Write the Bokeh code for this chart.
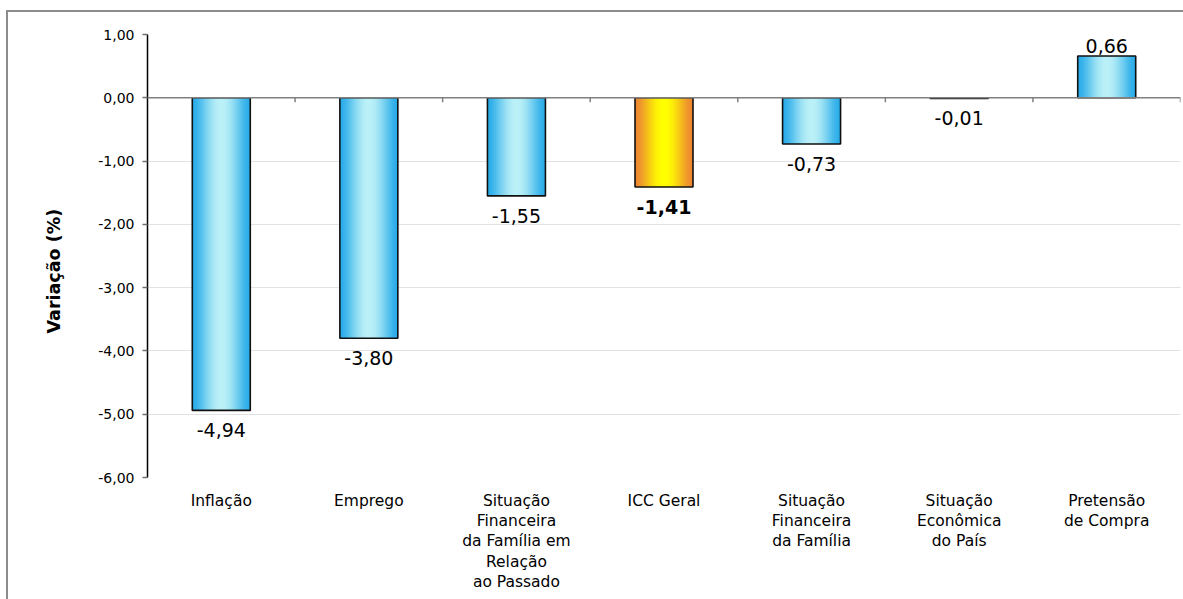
import numpy as np
from bokeh.plotting import figure
from bokeh.models import FixedTicker, Range1d, ColumnDataSource, Span, Title
from bokeh.core.properties import value
from bokeh.embed import file_html
from bokeh.resources import INLINE

# --- data -------------------------------------------------------------
categories = [
    "Inflação",
    "Emprego",
    "Situação\nFinanceira\nda Família em\nRelação\nao Passado",
    "ICC Geral",
    "Situação\nFinanceira\nda Família",
    "Situação\nEconômica\ndo País",
    "Pretensão\nde Compra",
]
values = [-4.94, -3.80, -1.55, -1.41, -0.73, -0.01, 0.66]
highlight = [False, False, False, True, False, False, False]
y_ticks = [1.0, 0.0, -1.0, -2.0, -3.0, -4.0, -5.0, -6.0]

FONT = "DejaVu Sans"
BAR_W = 0.393
N_STRIPS = 40

centers = [i + 0.5 for i in range(len(categories))]


def fmt(v):
    return f"{v:.2f}".replace(".", ",")


def mix(c1, c2, m):
    return "#%02x%02x%02x" % tuple(int(round(a + (b - a) * m)) for a, b in zip(c1, c2))


BLUE_EDGE, BLUE_MID = (41, 172, 233), (187, 240, 247)
ORANGE_EDGE, ORANGE_MID = (236, 134, 50), (255, 255, 0)

p = figure(
    width=1183, height=599,
    x_range=Range1d(0, len(categories)), y_range=Range1d(-6, 1),
    output_backend="svg", toolbar_location=None,
    min_border_left=147, min_border_right=3,
    min_border_top=34, min_border_bottom=122,
)
# chart box: top and left edges painted behind a transparent border area
p.styles = {
    "background": "linear-gradient(#8c8c8c, #8c8c8c) 6px 10px / 100% 2px no-repeat, "
                  "linear-gradient(#8c8c8c, #8c8c8c) 6px 10px / 2px 100% no-repeat, white",
}
p.border_fill_color = None
p.outline_line_color = None
p.background_fill_color = "white"

# horizontal gradient bars, built from overlapping thin vertical strips
lefts, rights, tops, bottoms, cols = [], [], [], [], []
sw = BAR_W / N_STRIPS
for c, v, hl in zip(centers, values, highlight):
    edge, mid = (ORANGE_EDGE, ORANGE_MID) if hl else (BLUE_EDGE, BLUE_MID)
    x0 = c - BAR_W / 2
    for k in range(N_STRIPS):
        t = (k + 0.5) / N_STRIPS
        m = np.sin(np.pi * t) ** 1.6
        lefts.append(x0 + k * sw)
        rights.append(min(x0 + (k + 2.5) * sw, x0 + BAR_W))
        tops.append(max(v, 0))
        bottoms.append(min(v, 0))
        cols.append(mix(edge, mid, m))
p.quad(left=lefts, right=rights, top=tops, bottom=bottoms,
       fill_color=cols, line_color=None)

# bar outlines
p.vbar(x=centers, top=[max(v, 0) for v in values], bottom=[min(v, 0) for v in values],
       width=BAR_W, fill_color=None, line_color="#111111", line_width=1.6)

# zero line with category separators
p.add_layout(Span(location=0, dimension="width", line_color="#808080", line_width=1.5))
bounds = list(range(1, len(categories) + 1))
p.segment(x0=bounds, y0=[0] * len(bounds), x1=bounds, y1=[-0.07] * len(bounds),
          line_color="#808080", line_width=1.5)

# value labels
neg = ColumnDataSource(dict(
    x=[c for c, v in zip(centers, values) if v < 0],
    y=[v for v in values if v < 0],
    t=[fmt(v) for v in values if v < 0],
    s=["bold" if h else "normal" for v, h in zip(values, highlight) if v < 0],
))
pos = ColumnDataSource(dict(
    x=[c for c, v in zip(centers, values) if v >= 0],
    y=[v for v in values if v >= 0],
    t=[fmt(v) for v in values if v >= 0],
    s=["bold" if h else "normal" for v, h in zip(values, highlight) if v >= 0],
))
p.text(x="x", y="y", text="t", source=neg, text_align="center", text_baseline="top",
       y_offset=13, text_font_size="19px", text_font=value(FONT), text_font_style="s",
       text_color="black")
p.text(x="x", y="y", text="t", source=pos, text_align="center", text_baseline="bottom",
       y_offset=-3, text_font_size="19px", text_font=value(FONT), text_font_style="s",
       text_color="black")

# y axis
p.yaxis.ticker = FixedTicker(ticks=y_ticks)
p.yaxis.major_label_overrides = {t: fmt(t) for t in y_ticks}
p.yaxis.major_label_text_font = FONT
p.yaxis.major_label_text_font_size = "14px"
p.yaxis.major_label_text_color = "black"
p.yaxis.major_label_standoff = 8
p.yaxis.axis_line_color = "black"
p.yaxis.axis_line_width = 1.5
p.yaxis.major_tick_line_color = "#707070"
p.yaxis.major_tick_line_width = 1.5
p.yaxis.major_tick_out = 5
p.yaxis.major_tick_in = 0
p.yaxis.minor_tick_line_color = None

# y axis title, placed a little below the middle of the plot area
p.add_layout(Title(text="Variação (%)", align="left", offset=144, standoff=63,
                   text_font=FONT, text_font_size="17.5px",
                   text_font_style="bold", text_color="black"), "left")

# x axis: category names under the plot area
p.xaxis.ticker = FixedTicker(ticks=centers)
p.xaxis.major_label_overrides = {c: name for c, name in zip(centers, categories)}
p.xaxis.major_label_text_font = FONT
p.xaxis.major_label_text_font_size = "15.5px"
p.xaxis.major_label_text_color = "black"
p.xaxis.major_label_text_line_height = 1.13
p.xaxis.major_label_standoff = 8
p.xaxis.axis_line_color = None
p.xaxis.major_tick_line_color = None
p.xaxis.minor_tick_line_color = None

# grid
p.xgrid.grid_line_color = None
p.ygrid.ticker = FixedTicker(ticks=y_ticks)
p.ygrid.grid_line_color = "#c4c4c4"
p.ygrid.grid_line_dash = "1 1"
p.ygrid.grid_line_width = 1

open("out.html", "w").write(file_html(p, INLINE))
